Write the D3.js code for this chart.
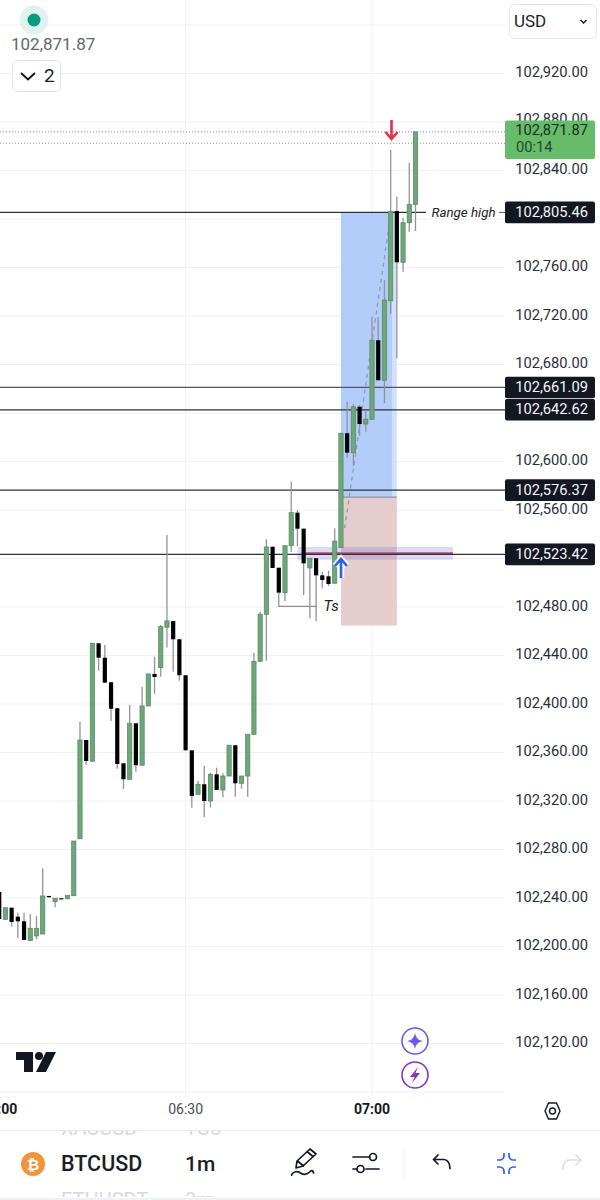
<!DOCTYPE html>
<html><head><meta charset="utf-8">
<script src="https://cdn.jsdelivr.net/npm/d3@7/dist/d3.min.js"></script>
<style>html,body{margin:0;padding:0;background:#fff}svg{display:block}text{font-family:Roboto,sans-serif}</style>
</head><body><svg id="c" width="600" height="1200"></svg>
<script>
const firstMinute=-30; // minutes from 06:30
const opens=[102245.0,102222.4,102232.0,102224.6,102220.8,102204.8,102208.7,102210.3,102241.7,102237.0,102239.8,102239.4,102241.9,102288.9,102370.3,102352.8,102450.1,102438.2,102417.9,102396.5,102351.1,102337.9,102384.1,102349.5,102398.4,102424.8,102430.0,102463.3,102468.5,102453.4,102423.7,102361.8,102325.5,102333.8,102320.0,102342.0,102329.1,102340.6,102366.0,102334.6,102340.6,102375.0,102435.2,102474.0,102529.7,102512.4,102491.8,102530.6,102557.8,102544.6,102512.2,102520.2,102506.1,102505.3,102499.6,102529.2,102623.3,102607.3,102645.2,102630.9,102634.8,102700.0,102667.0,102732.6,102806.6,102764.3,102796.9,102812.1];
const highs=[102245.0,102232.0,102232.0,102227.9,102227.9,102226.8,102225.2,102264.5,102241.7,102239.8,102239.8,102242.2,102287.0,102385.4,102370.3,102450.1,102450.1,102448.7,102417.9,102396.5,102351.1,102399.2,102384.1,102414.3,102424.8,102439.0,102465.2,102539.4,102468.5,102453.4,102423.7,102361.8,102336.8,102348.9,102343.4,102347.5,102342.9,102366.0,102366.0,102340.6,102375.0,102442.3,102476.1,102535.8,102529.7,102512.4,102530.6,102583.3,102560.0,102544.6,102520.2,102520.2,102509.1,102510.0,102544.9,102623.3,102649.3,102647.4,102646.6,102642.5,102719.4,102718.9,102749.7,102856.9,102818.4,102801.1,102846.4,102871.87];
const lows=[102222.7,102222.4,102216.4,102206.8,102205.4,102204.8,102206.0,102210.3,102240.6,102232.4,102239.3,102239.4,102241.9,102288.9,102349.9,102352.8,102427.5,102417.6,102386.0,102346.7,102329.9,102337.9,102344.2,102349.5,102398.4,102408.3,102422.5,102446.5,102426.7,102419.2,102361.8,102314.5,102325.5,102306.6,102314.5,102329.1,102323.1,102340.6,102323.6,102330.2,102323.6,102375.0,102435.2,102435.7,102512.2,102491.8,102485.0,102525.6,102530.3,102489.9,102470.7,102468.2,102495.4,102497.3,102499.6,102529.2,102602.9,102596.3,102621.3,102624.6,102634.8,102667.0,102648.0,102721.6,102685.1,102756.5,102789.5,102790.1];
const closes=[102222.7,102232.0,102220.2,102220.8,102205.4,102215.0,102215.0,102241.7,102240.6,102239.8,102239.3,102242.2,102287.0,102370.3,102353.0,102450.1,102438.2,102417.6,102396.1,102350.5,102337.9,102384.1,102349.5,102398.4,102424.8,102422.3,102463.8,102468.5,102453.4,102423.7,102361.8,102324.1,102333.8,102320.0,102342.0,102329.1,102340.6,102366.0,102334.6,102340.6,102375.0,102435.2,102474.0,102529.5,102512.2,102491.8,102530.6,102557.8,102544.6,102516.0,102520.2,102506.1,102502.3,102499.0,102534.4,102623.3,102607.3,102645.2,102630.9,102634.8,102700.0,102667.0,102733.2,102806.0,102764.3,102796.9,102812.1,102871.87];
const gridPrices=[102080,102120,102160,102200,102240,102280,102320,102360,102400,102440,102480,102520,102560,102600,102640,102680,102720,102760,102800,102840,102880,102920,102960];
const tickPrices=[102120,102160,102200,102240,102280,102320,102360,102400,102440,102480,102560,102600,102680,102720,102760,102840,102880,102920];
const levelPrices=[102805.46,102661.09,102642.62,102576.37,102523.42];
const lastPrice=102871.87, lastCountdown="00:14", dottedPrice=102862.4;
const timeMinutes=[-30,0,30], timeLabels=["06:00","06:30","07:00"];
const longTop=102805.46,longEntry=102570.7,longStop=102464.7;
const bandHigh=102529.5,bandLow=102519.0,bandMid=102524.5;

const svg=d3.select("#c");
const y=d3.scaleLinear().domain([102840,102120]).range([170.5,1043.5]);
const x=d3.scaleLinear().domain([0,30]).range([185.6,372]);
const fmt=d3.format(",.2f");
const defs=svg.append("defs");
defs.append("clipPath").attr("id","plot").append("rect").attr("x",0).attr("y",0).attr("width",505).attr("height",1098);
defs.append("clipPath").attr("id","clipA").append("rect").attr("x",0).attr("y",1131).attr("width",600).attr("height",8);
defs.append("clipPath").attr("id","clipB").append("rect").attr("x",0).attr("y",1188).attr("width",600).attr("height",9);
svg.append("rect").attr("width",600).attr("height",1200).attr("fill","#fff");
const plot=svg.append("g").attr("clip-path","url(#plot)");
// grid
plot.selectAll(".h").data(gridPrices).join("line").attr("x1",0).attr("x2",505).attr("y1",d=>y(d)).attr("y2",d=>y(d)).attr("stroke","#f0f1f3");
plot.selectAll(".v").data(timeMinutes.slice(1)).join("line").attr("x1",d=>x(d)).attr("x2",d=>x(d)).attr("y1",0).attr("y2",1098).attr("stroke","#f0f1f3");
// position zones
const xa=x(25),xb=x(34),xc=x(33.2);
plot.append("rect").attr("x",xa).attr("width",xb-xa).attr("y",y(longTop)).attr("height",y(longEntry)-y(longTop)).attr("fill","#d2e1fb");
plot.append("rect").attr("x",xa).attr("width",xc-xa).attr("y",y(longTop)).attr("height",y(longEntry)-y(longTop)).attr("fill","#b2cdf9");
plot.append("rect").attr("x",xa).attr("width",xb-xa).attr("y",y(longEntry)).attr("height",y(longStop)-y(longEntry)).attr("fill","#e5cdcd");
plot.append("line").attr("x1",xa).attr("x2",xb).attr("y1",y(longEntry)).attr("y2",y(longEntry)).attr("stroke","#8f8fa0").attr("stroke-width",1.2);
// band
plot.append("rect").attr("x",297.5).attr("width",155.5).attr("y",y(bandHigh)).attr("height",y(bandLow)-y(bandHigh)).attr("fill","#6a70e0").attr("fill-opacity",.25);
plot.append("line").attr("x1",305).attr("x2",453).attr("y1",y(bandMid)+.3).attr("y2",y(bandMid)+.3).attr("stroke","#b04f6e").attr("stroke-width",2);
// levels
plot.selectAll(".lv").data(levelPrices).join("line")
 .attr("x1",0).attr("x2",(d,i)=>i===0?426:505).attr("y1",d=>y(d)).attr("y2",d=>y(d))
 .attr("stroke",(d,i)=>i===1?"#555":"#2f3136").attr("stroke-width",1.2);
plot.append("line").attr("x1",499).attr("x2",505).attr("y1",y(levelPrices[0])).attr("y2",y(levelPrices[0])).attr("stroke","#555");
// dotted lines
plot.selectAll(".dot").data([lastPrice,dottedPrice]).join("line").attr("x1",0).attr("x2",505).attr("y1",d=>y(d)).attr("y2",d=>y(d))
 .attr("stroke",(d,i)=>i?"#b08a8a":"#7f8a80").attr("stroke-dasharray","1 2");
// dashed projection
plot.append("line").attr("x1",x(25.6)).attr("x2",x(33)).attr("y1",y(102545)).attr("y2",y(102803)).attr("stroke","#8896b0").attr("stroke-width",1.2).attr("stroke-dasharray","4 4");
// candles
const candles=opens.map((o,i)=>({m:firstMinute+i,o,h:highs[i],l:lows[i],c:closes[i]}));
const cg=plot.append("g");
cg.selectAll(".w").data(candles).join("line").attr("x1",d=>x(d.m)).attr("x2",d=>x(d.m)).attr("y1",d=>y(d.h)).attr("y2",d=>y(d.l)).attr("stroke","#939393").attr("stroke-width",1.3);
cg.selectAll(".b").data(candles).join("rect").attr("x",d=>x(d.m)-2.1).attr("width",4.2)
 .attr("y",d=>y(Math.max(d.o,d.c))).attr("height",d=>Math.max(1.2,Math.abs(y(d.o)-y(d.c))))
 .attr("fill",d=>d.c>=d.o?"#6ca878":"#000").attr("stroke",d=>d.c>=d.o?"#5c8a68":"none").attr("stroke-width",.8);
// Ts bracket
plot.append("path").attr("d",`M${x(15)} ${y(102491.8)}V${y(102480.5)}H317`).attr("fill","none").attr("stroke","#8f8f8f").attr("stroke-width",1.2);
plot.append("text").attr("x",323.5).attr("y",611).attr("font-size",15).attr("font-style","italic").attr("fill","#222").text("Ts");
plot.append("text").attr("x",431.5).attr("y",217).attr("font-size",13.3).attr("font-style","italic").attr("fill","#222").text("Range high");
// arrows
function arrow(cx,tip,dir,col,halo){
 const d=`M${cx} ${tip+dir*20}V${tip+dir*1}M${cx-6} ${tip+dir*8}L${cx} ${tip+dir*1}L${cx+6} ${tip+dir*8}`;
 if(halo)plot.append("path").attr("d",d).attr("fill","none").attr("stroke","#fff").attr("stroke-width",6.5).attr("stroke-opacity",.8);
 plot.append("path").attr("d",d).attr("fill","none").attr("stroke",col).attr("stroke-width",2.6);
}
arrow(391.5,140,-1,"#e0324a",false);
arrow(341,558,1,"#2962e8",true);
// price axis labels
const ax=svg.append("g");
ax.selectAll(".t").data(tickPrices).join("text").attr("x",588).attr("y",d=>y(d)+(d===102880?-2.5:-1)).attr("dy",".34em").attr("text-anchor","end").attr("font-size",14.7).attr("fill","#2a2e39").text(d=>fmt(d));
// tags
const tags=ax.selectAll(".g").data(levelPrices).join("g");
tags.append("rect").attr("x",505).attr("width",90).attr("y",d=>y(d)-10.8).attr("height",21.6).attr("rx",2).attr("fill","#131722");
tags.append("text").attr("x",588).attr("y",d=>y(d)-.5).attr("dy",".34em").attr("text-anchor","end").attr("font-size",14.7).attr("fill","#f5f6f8").text(d=>fmt(d));
ax.append("rect").attr("x",505).attr("y",120.5).attr("width",90).attr("height",38.5).attr("rx",2).attr("fill","#67bb6b");
ax.append("text").attr("x",588).attr("y",130.3).attr("dy",".34em").attr("text-anchor","end").attr("font-size",14.7).attr("fill","#17301b").text(fmt(lastPrice));
ax.append("text").attr("x",516).attr("y",147).attr("dy",".34em").attr("font-size",14.7).attr("fill","#24492a").text(lastCountdown);
// top-left
svg.append("circle").attr("cx",34).attr("cy",20).attr("r",14.5).attr("fill","#e1f2ee");
svg.append("circle").attr("cx",34).attr("cy",20).attr("r",6.5).attr("fill","#089981");
svg.append("text").attr("x",11).attr("y",50).attr("font-size",17).attr("fill","#63666d").text(fmt(lastPrice));
svg.append("rect").attr("x",12.5).attr("y",60.5).attr("width",48).attr("height",31).attr("rx",4).attr("fill","#fff").attr("stroke","#e4e5e9");
svg.append("path").attr("d","M21 73l7 6.5 7-6.5").attr("fill","none").attr("stroke","#131722").attr("stroke-width",2);
svg.append("text").attr("x",44).attr("y",82).attr("font-size",19).attr("fill","#1b1e27").text("2");
// USD
svg.append("rect").attr("x",509.5).attr("y",4.5).attr("width",87).attr("height",34).attr("rx",5).attr("fill","#fff").attr("stroke","#e4e5e9");
svg.append("text").attr("x",514).attr("y",27).attr("font-size",17).attr("fill","#1b1e27").text("USD");
svg.append("path").attr("d","M580.5 20l3 3 3-3").attr("fill","none").attr("stroke","#1b1e27").attr("stroke-width",1.5);
// TV logo
svg.append("g").attr("transform","translate(16,1052)").attr("fill","#131722").call(g=>{
 g.append("path").attr("d","M0 0H17V20H8V8H0Z");
 g.append("circle").attr("cx",23).attr("cy",4).attr("r",4);
 g.append("path").attr("d","M30 0H40L30 20H20Z");
});
// assistant buttons
const btn=(cy,col)=>svg.append("circle").attr("cx",415).attr("cy",cy).attr("r",13).attr("fill","#fff").attr("stroke",col).attr("stroke-width",1.6);
btn(1041,"#6a5be8");btn(1075,"#8a35b5");
svg.append("path").attr("d","M415 1033Q416 1040 423 1041Q416 1042 415 1049Q414 1042 407 1041Q414 1040 415 1033Z").attr("fill","#6a5be8");
svg.append("path").attr("d","M418 1067L410 1077H414.5L412 1083L420 1073H415.5Z").attr("fill","#8a35b5");
// time axis
svg.selectAll(".tl").data(timeMinutes).join("text").attr("x",d=>x(d)).attr("y",1114).attr("text-anchor","middle").attr("font-size",14)
 .attr("font-weight",d=>d===0?400:700).attr("fill",d=>d===0?"#4a4e58":"#131722").text((d,i)=>timeLabels[i]);
svg.append("path").attr("d","M545 1111l3.5-8h8l3.5 8-3.5 8h-8z").attr("fill","none").attr("stroke","#131722").attr("stroke-width",1.4);
svg.append("circle").attr("cx",552.5).attr("cy",1111).attr("r",3).attr("fill","none").attr("stroke","#131722").attr("stroke-width",1.4);
svg.append("line").attr("x1",0).attr("x2",600).attr("y1",1130.5).attr("y2",1130.5).attr("stroke","#e8eaee");
// bottom toolbar
svg.append("g").attr("clip-path","url(#clipA)").append("text").attr("x",61).attr("y",1135).attr("font-size",20).attr("fill","#d8d9dd").text("XAUUSD");
svg.append("g").attr("clip-path","url(#clipA)").append("text").attr("x",185).attr("y",1135).attr("font-size",20).attr("fill","#d8d9dd").text("1G5");
svg.append("g").attr("clip-path","url(#clipB)").append("text").attr("x",61).attr("y",1207).attr("font-size",20).attr("fill","#d8d9dd").text("ETHUSDT");
svg.append("g").attr("clip-path","url(#clipB)").append("text").attr("x",185).attr("y",1207).attr("font-size",20).attr("fill","#d8d9dd").text("3m");
svg.append("line").attr("x1",0).attr("x2",600).attr("y1",1199).attr("y2",1199).attr("stroke","#edf1f8").attr("stroke-width",2);
svg.append("circle").attr("cx",33).attr("cy",1164).attr("r",12).attr("fill","#f0953a");
svg.append("text").attr("x",33).attr("y",1169.5).attr("text-anchor","middle").attr("font-size",15).attr("font-weight",700).attr("fill","#fff").text("₿");
svg.append("text").attr("x",61).attr("y",1170.5).attr("font-size",21.5).attr("font-weight",500).attr("fill","#1b1e27").text("BTCUSD");
svg.append("text").attr("x",185).attr("y",1170.5).attr("font-size",21).attr("font-weight",500).attr("fill","#1b1e27").text("1m");
const ic=svg.append("g").attr("fill","none").attr("stroke","#131722").attr("stroke-width",1.7).attr("stroke-linecap","round").attr("stroke-linejoin","round");
ic.append("path").attr("d","M296 1168l1-7 13-12 6 5-13 12zM297.5 1161l6 5M307 1151.5l6 5");
ic.append("path").attr("d","M291.5 1175c2-4 6-4 9-2s6 2 9-1 4 0 4 1");
ic.append("path").attr("d","M353 1157H370M353 1169H357M366 1169H379");
ic.append("circle").attr("cx",373).attr("cy",1157).attr("r",3.5);
ic.append("circle").attr("cx",360.5).attr("cy",1169).attr("r",3.5);
ic.append("path").attr("d","M438 1155l-4.5 4.5 4.5 4.5M433.5 1159.5H444c3 0 6 3 6 9");
ic.append("path").attr("d","M563 1169c0-6 3-9 7-9H581M576 1155l5 5-5 5").attr("stroke","#dcdee3");
const ic2=svg.append("g").attr("fill","none").attr("stroke","#2962ff").attr("stroke-width",1.7);
ic2.append("path").attr("d","M504 1153v3c0 2-2 4-4 4h-3M509 1153v3c0 2 2 4 4 4h3M504 1174v-3c0-2-2-4-4-4h-3M509 1174v-3c0-2 2-4 4-4h3");
svg.append("line").attr("x1",404).attr("x2",404).attr("y1",1148).attr("y2",1180).attr("stroke","#eceef1");
</script></body></html>
